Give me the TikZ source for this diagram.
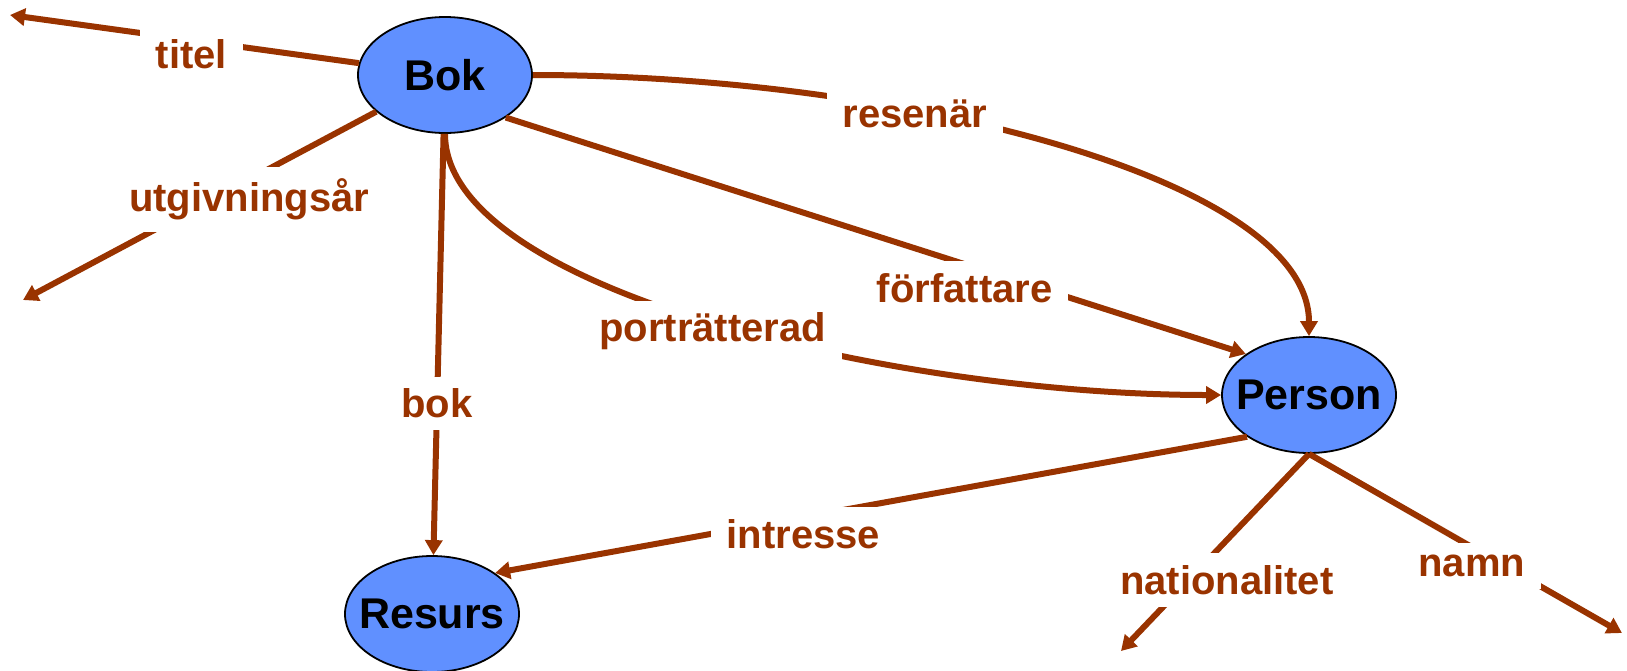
\documentclass[tikz,border=0pt]{standalone}
\usepackage{fontspec}
\setmainfont{Liberation Sans}
\usetikzlibrary{arrows.meta,shapes.geometric}
\definecolor{relbrown}{HTML}{993300}
\definecolor{klassblue}{HTML}{6090FF}
\tikzset{
    klass/.style={%
        draw, ellipse, fill=klassblue,
        line width=0.9pt,
        minimum width=87pt,
        minimum height=58pt,
        inner xsep=-10pt, inner ysep=0pt,
        font=\bfseries\fontsize{21.5}{24}\selectfont
    },
    rel/.style={draw=relbrown, line width=3pt},
    lbl/.style={%
        fill=white, text=relbrown,
        inner xsep=8pt, inner ysep=6pt,
        font=\bfseries\fontsize{20}{24}\selectfont
    },
    >={Triangle[length=7.5pt,width=8.5pt]}
}

\begin{document}
\begin{tikzpicture}[x=0.5pt, y=-0.5pt]
    \useasboundingbox (0,0) rectangle (1627,670);
    \node[klass] (Bok) at (445,75) {Bok};
    \node[klass] (Person) at (1309,395) {Person};
    \node[klass] (Resurs) at (432,614) {Resurs};
    \coordinate (titelEnd) at (10,15);
    \coordinate (utgEnd) at (23,300);
    \coordinate (natEnd) at (1121,651);
    \coordinate (namnEnd) at (1622,633);
    % Bok
    \draw[rel,->] (Bok) -- node[lbl, pos=0.48, yshift=-7pt] {titel} (titelEnd);
    \draw[rel,->] (Bok) -- node[lbl, pos=0.36, yshift=-10pt] {utgivningsår} (utgEnd);
    \draw[rel,->] (Bok) -- node[lbl, pos=0.64] {bok} (Resurs);
    \draw[rel,->] (Bok.-35) -- node[lbl, pos=0.62, yshift=-12pt] {författare} (Person.147);
    \draw[rel,->] (Bok.south) .. controls +(0,157) and +(-321,0) .. node[lbl, pos=0.5, yshift=-4pt] {porträtterad} (Person.west);
    \draw[rel,->] (Bok.east) .. controls +(368,0) and +(0,-157) .. node[lbl, pos=0.35, yshift=-1.5pt] {resenär} (Person.north);
    % Person
    \draw[rel,->] (Person.-146) -- node[lbl, pos=0.59, yshift=-8.5pt] {intresse} (Resurs.33);
    \draw[rel,->] (Person.south) -- node[lbl, pos=0.64, xshift=19pt] {nationalitet} (natEnd);
    \draw[rel,->] (Person.south) -- node[lbl, pos=0.52, yshift=-9.5pt] {namn} (namnEnd);
\end{tikzpicture}
\end{document}
